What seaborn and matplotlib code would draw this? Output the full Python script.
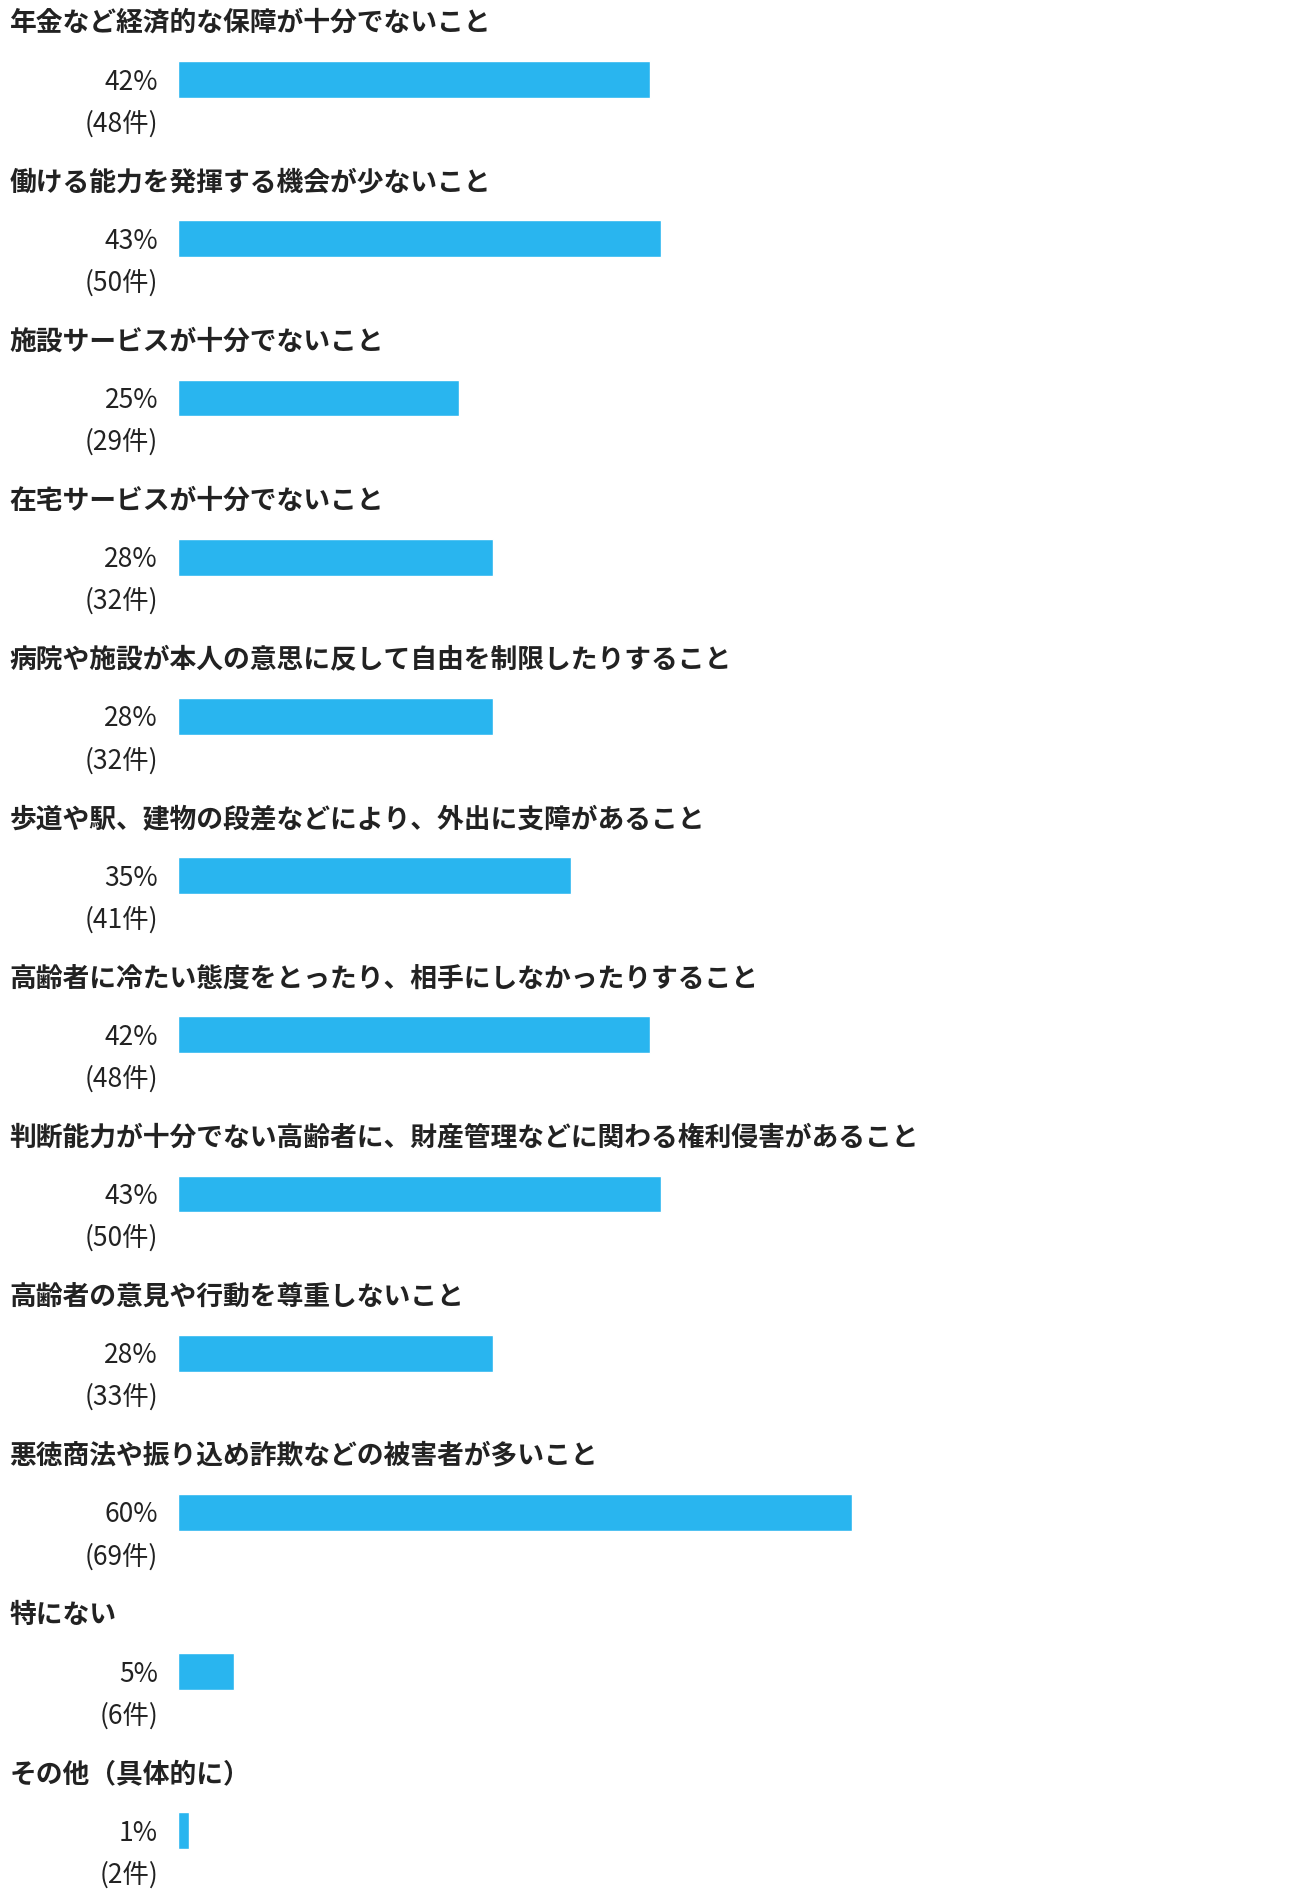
import matplotlib
matplotlib.use("Agg")
import matplotlib.pyplot as plt
import matplotlib.transforms as mtransforms
import seaborn as sns
import pandas as pd

categories = [
    "年金など経済的な保障が十分でないこと",
    "働ける能力を発揮する機会が少ないこと",
    "施設サービスが十分でないこと",
    "在宅サービスが十分でないこと",
    "病院や施設が本人の意思に反して自由を制限したりすること",
    "歩道や駅、建物の段差などにより、外出に支障があること",
    "高齢者に冷たい態度をとったり、相手にしなかったりすること",
    "判断能力が十分でない高齢者に、財産管理などに関わる権利侵害があること",
    "高齢者の意見や行動を尊重しないこと",
    "悪徳商法や振り込め詐欺などの被害者が多いこと",
    "特にない",
    "その他（具体的に）",
]
percents = [42, 43, 25, 28, 28, 35, 42, 43, 28, 60, 5, 1]
counts = [48, 50, 29, 32, 32, 41, 48, 50, 33, 69, 6, 2]

sns.set_theme(style="white")
plt.rcParams["font.family"] = ["Noto Sans CJK JP", "DejaVu Sans"]

df = pd.DataFrame({"cat": categories, "pct": percents})

W, H = 1302, 1891
fig = plt.figure(figsize=(W / 100, H / 100), dpi=100)
ax = fig.add_axes([178 / W, 0, 1 - 178 / W, 1])

sns.barplot(data=df, y="cat", x="pct", order=categories, color="#29B5EF",
            saturation=1, width=0.232, ax=ax, orient="h")

ax.set_xlim(0, 100)
ax.set_ylim(11.378, -0.5)
ax.axis("off")

trans = mtransforms.blended_transform_factory(fig.transFigure, ax.transData)
text_color = "#222222"
for i, (cat, p, c) in enumerate(zip(categories, percents, counts)):
    ax.text(9.6 / W, i - 0.356, cat, transform=trans, ha="left", va="center",
            fontsize=19.3, fontweight="bold", color=text_color)
    ax.text(158 / W, i + 0.016, f"{p}%", transform=trans, ha="right", va="center",
            fontsize=19, color=text_color)
    ax.text(158 / W, i + 0.278, f"({c}件)", transform=trans, ha="right",
            va="center", fontsize=19, color=text_color)

fig.savefig("out.png", dpi=100, facecolor="white")
